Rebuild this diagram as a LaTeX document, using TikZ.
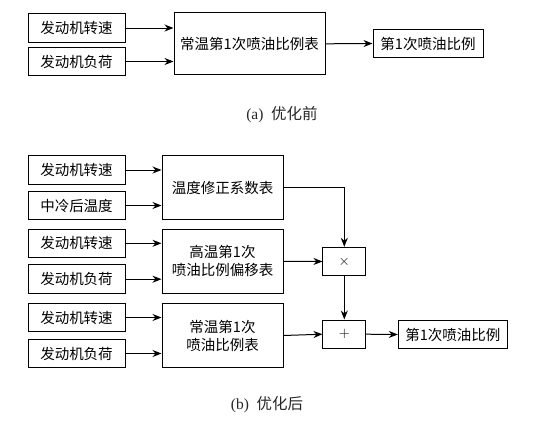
\documentclass[tikz,border=0pt]{standalone}
\usepackage{fontspec}
\setmainfont{Liberation Serif}
\newfontfamily\cjk{Noto Sans CJK SC}
\usetikzlibrary{arrows.meta}

\begin{document}
\begin{tikzpicture}[
  x=1pt, y=-1pt,
  every node/.style={font=\cjk\fontsize{14.5}{18}\selectfont},
  inbox/.style={rectangle, draw, line width=1pt, inner sep=0pt,
    minimum width=97pt, minimum height=28.5pt},
  tabbox/.style={rectangle, draw, line width=1pt, inner sep=0pt,
    minimum width=121pt, minimum height=64pt, align=center},
  opbox/.style={rectangle, draw, line width=1pt, inner sep=0pt,
    minimum width=42.7pt, minimum height=28.4pt},
  flow/.style={line width=1pt, -{Stealth[length=9pt, width=7pt]}},
  caption/.style={font=\rmfamily\fontsize{15.5}{18}\selectfont, text=black!85}
]
\useasboundingbox (0,0) rectangle (560,421);

% ====== (a) BEFORE ======
\node[inbox] (speedA) at (76.5,28) {发动机转速};
\node[inbox] (loadA) at (76.5,61.5) {发动机负荷};
\node[tabbox, minimum width=151pt, minimum height=62.3pt] (mapA) at (249.5,43.8)
    {常温第1次喷油比例表};
\node[inbox, minimum width=110pt] (outA) at (428,43.5) {第1次喷油比例};

\draw[flow] (speedA.east) -- (mapA.west |- speedA.east);
\draw[flow] (loadA.east) -- (mapA.west |- loadA.east);
\draw[flow] (mapA.east) -- (outA.west);

\node[caption] (capA) at (282,115) {(a)\ \ {\cjk 优化前}};

% ====== (b) AFTER ======
% temperature correction
\node[inbox] (speedB) at (76.5,170) {发动机转速};
\node[inbox] (coolT) at (76.5,205.5) {中冷后温度};
\node[tabbox] (corrMap) at (222.5,187.5) {温度修正系数表};

% high temperature offset
\node[inbox] (speedC) at (76.5,243.3) {发动机转速};
\node[inbox] (loadC) at (76.5,279.2) {发动机负荷};
\node[tabbox] (offMap) at (222.5,261.3) {高温第1次\\喷油比例偏移表};

% normal temperature
\node[inbox] (speedD) at (76.5,317.5) {发动机转速};
\node[inbox] (loadD) at (76.5,353.5) {发动机负荷};
\node[tabbox] (baseMap) at (222.5,335.5) {常温第1次\\喷油比例表};

\node[opbox] (mul) at (344.3,261.5) {$\times$};
\node[opbox] (add) at (344.3,334.2) {\Large$+$};
\node[inbox, minimum width=109pt] (outB) at (452.8,334.5) {第1次喷油比例};

\foreach \src/\dst in {speedB/corrMap, coolT/corrMap, speedC/offMap,
                       loadC/offMap, speedD/baseMap, loadD/baseMap}{
  \draw[flow] (\src.east) -- (\dst.west |- \src.east);
}
\draw[flow] (corrMap.east) -| (mul.north);
\draw[flow] (offMap.east) -- (mul.west);
\draw[flow] (mul.south) -- (add.north);
\draw[flow] (baseMap.east) -- (add.west);
\draw[flow] (add.east) -- (outB.west);

\node[caption] (capB) at (267,405) {(b)\ \ {\cjk 优化后}};

\end{tikzpicture}
\end{document}
